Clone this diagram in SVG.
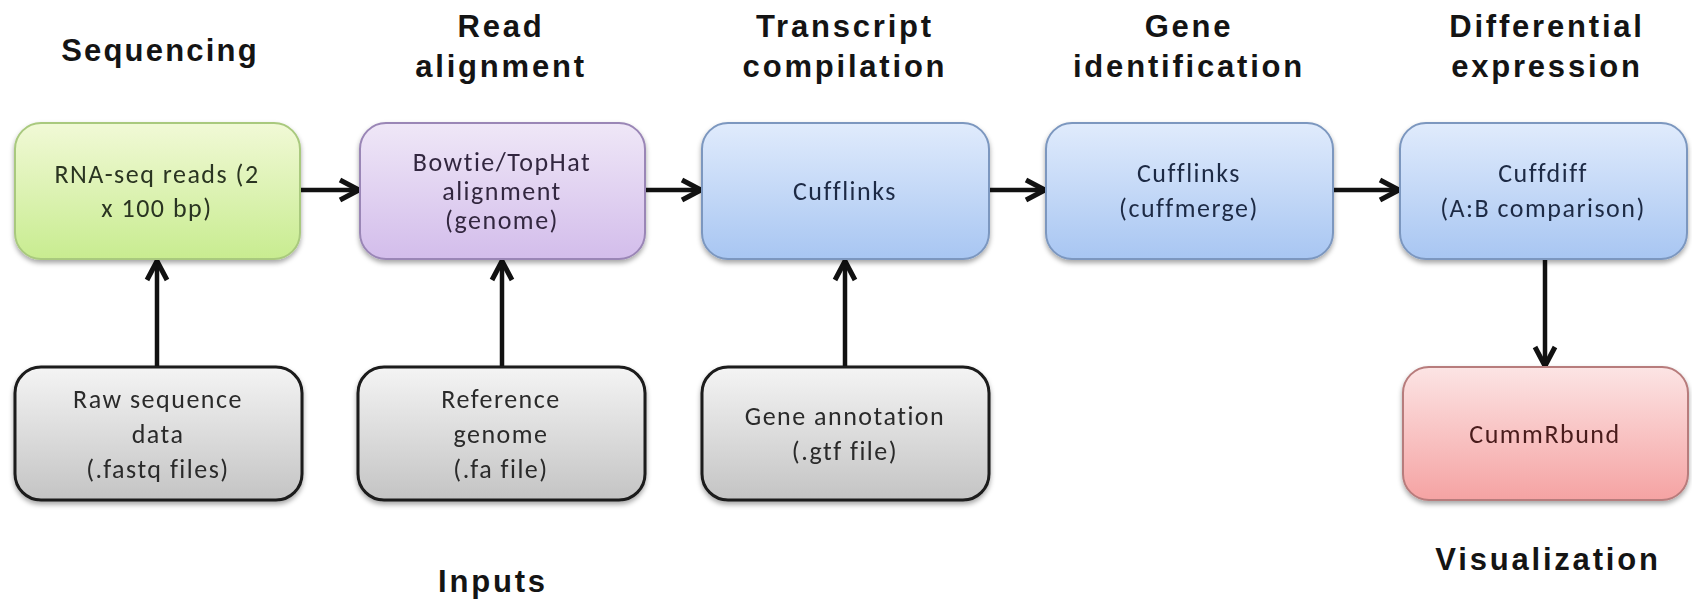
<svg xmlns="http://www.w3.org/2000/svg" width="1692" height="600" viewBox="0 0 1692 600">
<defs>
<linearGradient id="gGreen" x1="0" y1="0" x2="0" y2="1"><stop offset="0" stop-color="#f1f9d6"/><stop offset="1" stop-color="#c8ec90"/></linearGradient>
<linearGradient id="gPurple" x1="0" y1="0" x2="0" y2="1"><stop offset="0" stop-color="#efe7f7"/><stop offset="1" stop-color="#d3bdeb"/></linearGradient>
<linearGradient id="gBlue" x1="0" y1="0" x2="0" y2="1"><stop offset="0" stop-color="#e0ebfc"/><stop offset="1" stop-color="#a8c6f2"/></linearGradient>
<linearGradient id="gGray" x1="0" y1="0" x2="0" y2="1"><stop offset="0" stop-color="#f4f4f4"/><stop offset="1" stop-color="#c4c4c4"/></linearGradient>
<linearGradient id="gRed" x1="0" y1="0" x2="0" y2="1"><stop offset="0" stop-color="#fce4e4"/><stop offset="1" stop-color="#f5a3a3"/></linearGradient>
<filter id="sh" x="-5%" y="-5%" width="110%" height="120%"><feDropShadow dx="0" dy="3" stdDeviation="2.5" flood-color="#000" flood-opacity="0.35"/></filter>
<marker id="arr" viewBox="0 0 26 26" markerUnits="userSpaceOnUse" markerWidth="26" markerHeight="26" refX="22" refY="13" orient="auto">
<path d="M3,3 L22,13 L3,23" fill="none" stroke="#111" stroke-width="5" stroke-linejoin="miter"/>
</marker>
</defs>
<style>
.hdr{font-family:"Liberation Sans",Arial,sans-serif;font-weight:bold;font-size:31px;letter-spacing:2.8px;fill:#141414;text-anchor:middle}
.bx{stroke-width:2}
.lbl{font-family:Carlito,Lato,"Open Sans",sans-serif;font-size:26px;letter-spacing:1.5px;text-anchor:middle}
.green{fill:url(#gGreen);stroke:#a9c97e}
.purple{fill:url(#gPurple);stroke:#9a86b6}
.blue{fill:url(#gBlue);stroke:#7c97bf}
.gray{fill:url(#gGray);stroke:#1a1a1a;stroke-width:3}
.red{fill:url(#gRed);stroke:#b77b7b}
.conn{stroke:#111;stroke-width:4.5;fill:none;marker-end:url(#arr)}
</style>
<rect width="1692" height="600" fill="#ffffff"/>

<g id="headers">
<text class="hdr" x="160" y="61" style="letter-spacing:2.2px">Sequencing</text>
<text class="hdr" x="501" y="37">Read</text>
<text class="hdr" x="501" y="77">alignment</text>
<text class="hdr" x="845" y="37">Transcript</text>
<text class="hdr" x="845" y="77">compilation</text>
<text class="hdr" x="1189" y="37">Gene</text>
<text class="hdr" x="1189" y="77">identification</text>
<text class="hdr" x="1547" y="37">Differential</text>
<text class="hdr" x="1547" y="77">expression</text>
<text class="hdr" x="493" y="592">Inputs</text>
<text class="hdr" x="1548" y="570">Visualization</text>
</g>

<g id="connectors">
<line class="conn" x1="300" y1="190" x2="359" y2="190"/>
<line class="conn" x1="645" y1="190" x2="701" y2="190"/>
<line class="conn" x1="989" y1="190" x2="1045" y2="190"/>
<line class="conn" x1="1333" y1="190" x2="1399" y2="190"/>
<line class="conn" x1="157" y1="367" x2="157" y2="261"/>
<line class="conn" x1="502" y1="367" x2="502" y2="261"/>
<line class="conn" x1="845" y1="367" x2="845" y2="261"/>
<line class="conn" x1="1545" y1="260" x2="1545" y2="366"/>
</g>

<g id="n_rnaseq" filter="url(#sh)">
<rect class="bx green" x="15" y="123" width="285" height="136" rx="26"/>
<text class="lbl" fill="#2a3420" x="157" y="183">RNA-seq reads (2</text>
<text class="lbl" fill="#2a3420" x="157" y="217">x 100 bp)</text>
</g>
<g id="n_bowtie" filter="url(#sh)">
<rect class="bx purple" x="360" y="123" width="285" height="136" rx="26"/>
<text class="lbl" fill="#33283f" x="502" y="171">Bowtie/TopHat</text>
<text class="lbl" fill="#33283f" x="502" y="200">alignment</text>
<text class="lbl" fill="#33283f" x="502" y="229">(genome)</text>
</g>
<g id="n_cufflinks" filter="url(#sh)">
<rect class="bx blue" x="702" y="123" width="287" height="136" rx="26"/>
<text class="lbl" fill="#1e2a44" x="845" y="200">Cufflinks</text>
</g>
<g id="n_cuffmerge" filter="url(#sh)">
<rect class="bx blue" x="1046" y="123" width="287" height="136" rx="26"/>
<text class="lbl" fill="#1e2a44" x="1189" y="182">Cufflinks</text>
<text class="lbl" fill="#1e2a44" x="1189" y="217">(cuffmerge)</text>
</g>
<g id="n_cuffdiff" filter="url(#sh)">
<rect class="bx blue" x="1400" y="123" width="287" height="136" rx="26"/>
<text class="lbl" fill="#1e2a44" x="1543" y="182">Cuffdiff</text>
<text class="lbl" fill="#1e2a44" x="1543" y="217">(A:B comparison)</text>
</g>
<g id="n_raw" filter="url(#sh)">
<rect class="gray" x="15" y="367" width="287" height="133" rx="26"/>
<text class="lbl" fill="#2a2a2a" x="158" y="408">Raw sequence</text>
<text class="lbl" fill="#2a2a2a" x="158" y="443">data</text>
<text class="lbl" fill="#2a2a2a" x="158" y="478">(.fastq files)</text>
</g>
<g id="n_ref" filter="url(#sh)">
<rect class="gray" x="358" y="367" width="287" height="133" rx="26"/>
<text class="lbl" fill="#2a2a2a" x="501" y="408">Reference</text>
<text class="lbl" fill="#2a2a2a" x="501" y="443">genome</text>
<text class="lbl" fill="#2a2a2a" x="501" y="478">(.fa file)</text>
</g>
<g id="n_gtf" filter="url(#sh)">
<rect class="gray" x="702" y="367" width="287" height="133" rx="26"/>
<text class="lbl" fill="#2a2a2a" x="845" y="425">Gene annotation</text>
<text class="lbl" fill="#2a2a2a" x="845" y="460">(.gtf file)</text>
</g>
<g id="n_cummrbund" filter="url(#sh)">
<rect class="bx red" x="1403" y="367" width="285" height="133" rx="26"/>
<text class="lbl" fill="#4a1c1c" x="1545" y="443">CummRbund</text>
</g>
</svg>
